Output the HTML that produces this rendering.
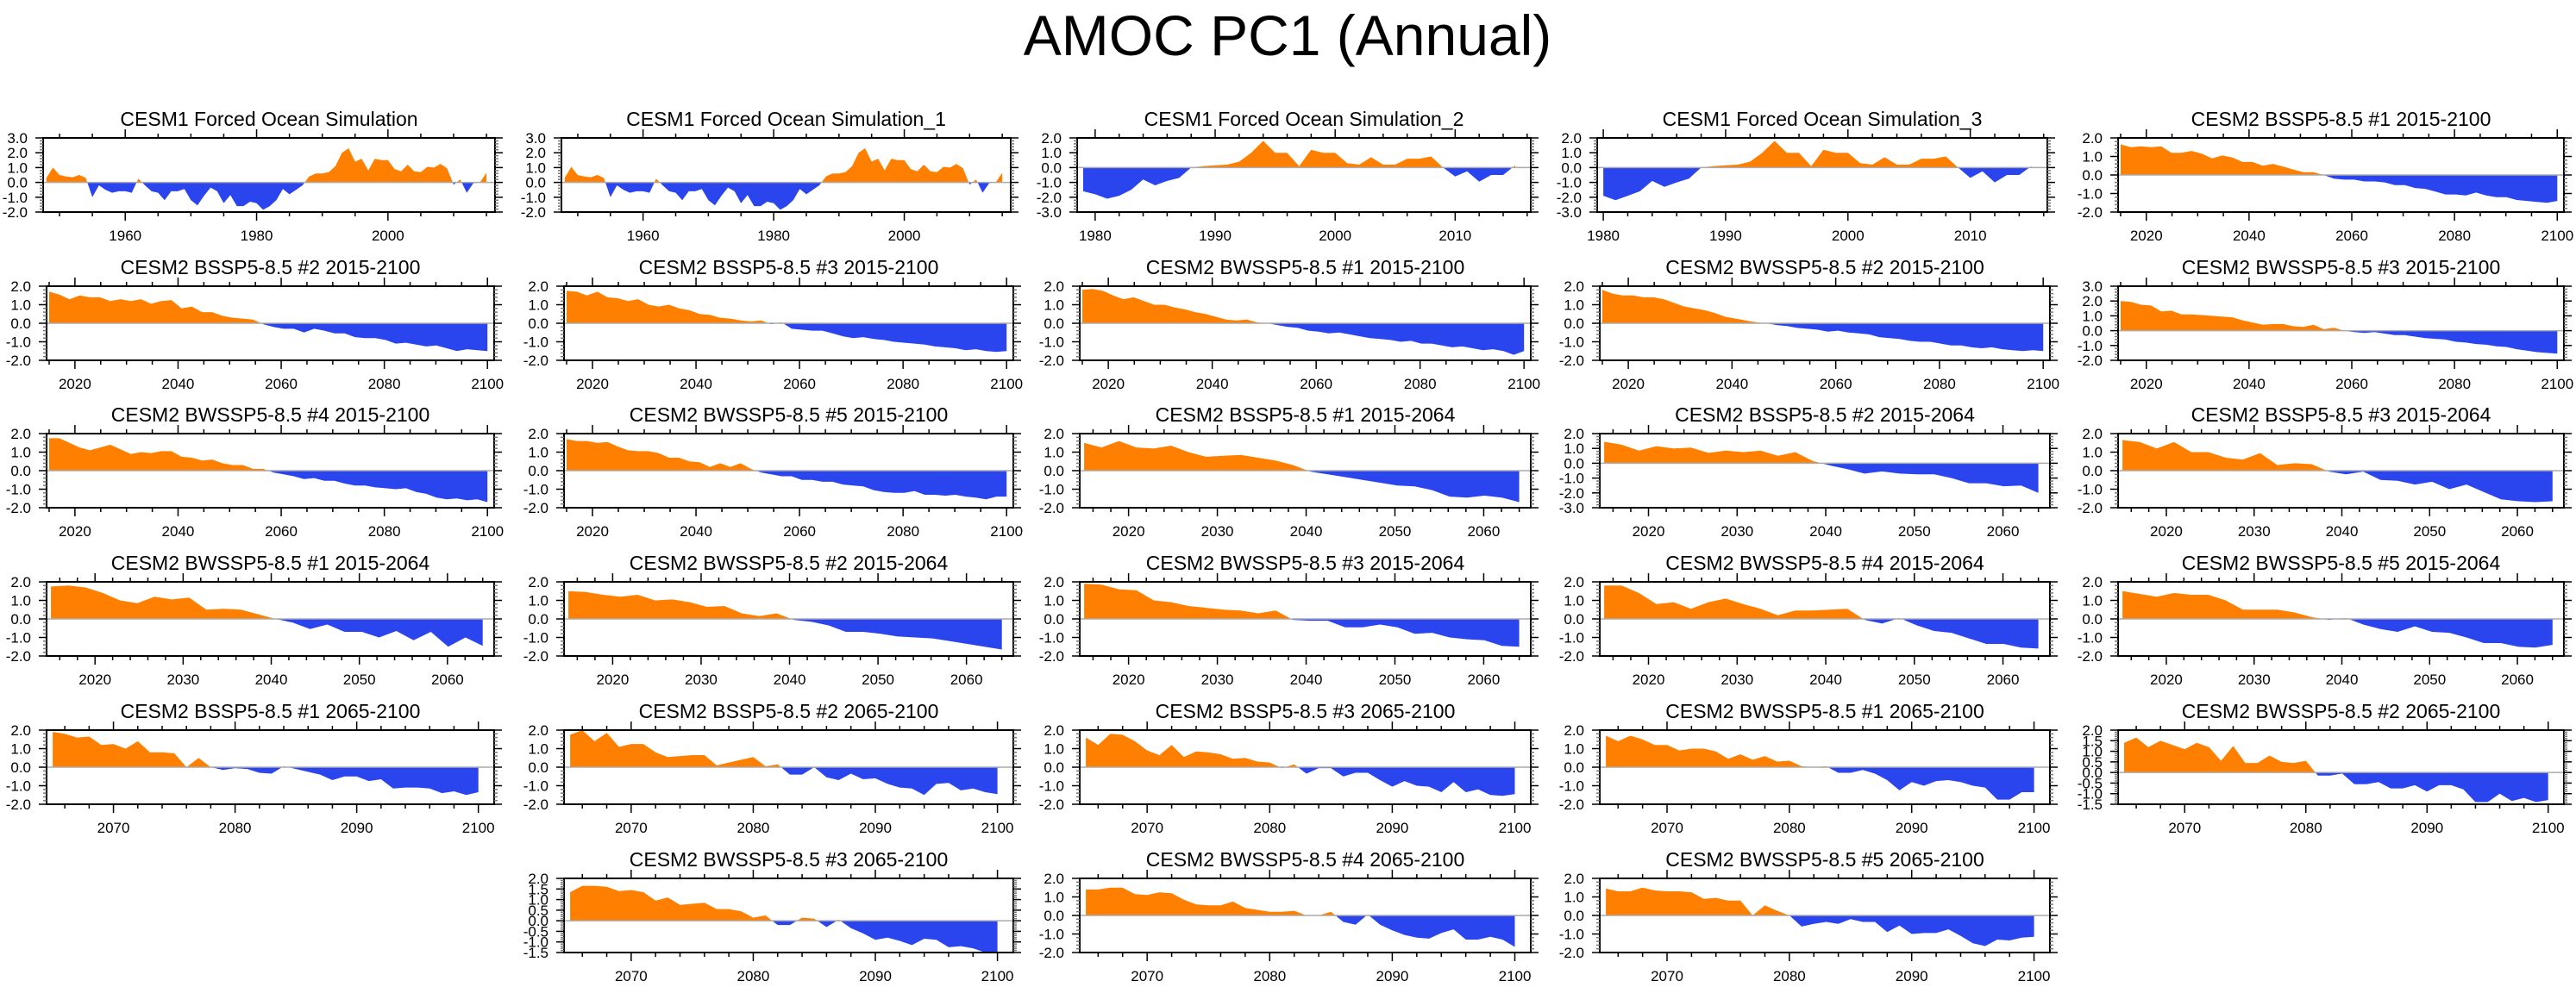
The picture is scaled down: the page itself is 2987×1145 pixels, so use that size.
<!DOCTYPE html>
<html><head><meta charset="utf-8"><title>AMOC PC1 (Annual)</title>
<style>
html,body{margin:0;padding:0;background:#fff;}
svg{display:block;font-family:"Liberation Sans",Arial,sans-serif;}
</style></head>
<body>
<svg id="fig" width="2987" height="1145" viewBox="0 0 2987 1145" xmlns="http://www.w3.org/2000/svg">
<text x="1493" y="64" text-anchor="middle" font-size="66" fill="#000">AMOC PC1 (Annual)</text>
</svg>
<script>
// ---- data: panel titles, year ranges, values ----
const panelTitles = [
 "CESM1 Forced Ocean Simulation","CESM1 Forced Ocean Simulation_1","CESM1 Forced Ocean Simulation_2","CESM1 Forced Ocean Simulation_3","CESM2 BSSP5-8.5 #1 2015-2100",
 "CESM2 BSSP5-8.5 #2 2015-2100","CESM2 BSSP5-8.5 #3 2015-2100","CESM2 BWSSP5-8.5 #1 2015-2100","CESM2 BWSSP5-8.5 #2 2015-2100","CESM2 BWSSP5-8.5 #3 2015-2100",
 "CESM2 BWSSP5-8.5 #4 2015-2100","CESM2 BWSSP5-8.5 #5 2015-2100","CESM2 BSSP5-8.5 #1 2015-2064","CESM2 BSSP5-8.5 #2 2015-2064","CESM2 BSSP5-8.5 #3 2015-2064",
 "CESM2 BWSSP5-8.5 #1 2015-2064","CESM2 BWSSP5-8.5 #2 2015-2064","CESM2 BWSSP5-8.5 #3 2015-2064","CESM2 BWSSP5-8.5 #4 2015-2064","CESM2 BWSSP5-8.5 #5 2015-2064",
 "CESM2 BSSP5-8.5 #1 2065-2100","CESM2 BSSP5-8.5 #2 2065-2100","CESM2 BSSP5-8.5 #3 2065-2100","CESM2 BWSSP5-8.5 #1 2065-2100","CESM2 BWSSP5-8.5 #2 2065-2100",
 "CESM2 BWSSP5-8.5 #3 2065-2100","CESM2 BWSSP5-8.5 #4 2065-2100","CESM2 BWSSP5-8.5 #5 2065-2100"];
const startYears = [1948,1948,1979,1980,2015, 2015,2015,2015,2015,2015, 2015,2015,2015,2015,2015, 2015,2015,2015,2015,2015, 2065,2065,2065,2065,2065, 2065,2065,2065];
const endYears   = [2015,2015,2015,2015,2100, 2100,2100,2100,2100,2100, 2100,2100,2064,2064,2064, 2064,2064,2064,2064,2064, 2100,2100,2100,2100,2100, 2100,2100,2100];
const yMins = [-2,-2,-3,-3,-2, -2,-2,-2,-2,-2, -2,-2,-2,-3,-2, -2,-2,-2,-2,-2, -2,-2,-2,-2,-1.5, -1.5,-2,-2];
const yMaxs = [3,3,2,2,2, 2,2,2,2,3, 2,2,2,2,2, 2,2,2,2,2, 2,2,2,2,2, 2,2,2];
const yTickSteps = [1,1,1,1,1, 1,1,1,1,1, 1,1,1,1,1, 1,1,1,1,1, 1,1,1,1,0.5, 0.5,1,1];

const v01 = [0.3,1.0,0.5,0.4,0.35,0.5,0.3,-1.0,-0.2,-0.5,-0.7,-0.6,-0.6,-0.7,0.25,-0.2,-0.6,-0.7,-1.2,-0.6,-0.6,-0.45,-1.2,-1.55,-0.9,-0.35,-0.6,-1.4,-0.85,-1.6,-1.6,-1.3,-1.4,-1.85,-1.6,-1.2,-0.45,-0.8,-0.5,-0.2,0.4,0.6,0.6,0.7,1.1,2.0,2.3,1.4,1.6,0.8,1.6,1.5,1.5,0.9,0.75,1.2,0.75,0.7,1.05,1.0,1.25,0.95,-0.15,0.2,-0.7,-0.05,0.0,0.65];
const v02 = [0.3,1.05,0.5,0.4,0.35,0.5,0.3,-1.0,-0.2,-0.5,-0.7,-0.6,-0.6,-0.7,0.25,-0.2,-0.6,-0.7,-1.2,-0.6,-0.6,-0.45,-1.2,-1.55,-0.9,-0.35,-0.6,-1.4,-0.85,-1.6,-1.6,-1.3,-1.4,-1.85,-1.6,-1.2,-0.45,-0.8,-0.5,-0.2,0.4,0.6,0.6,0.7,1.1,2.0,2.3,1.4,1.6,0.8,1.6,1.5,1.5,0.9,0.75,1.2,0.75,0.7,1.05,1.0,1.25,0.95,-0.15,0.2,-0.7,-0.05,0.0,0.65];
const v03 = [-1.6,-1.8,-2.1,-1.9,-1.5,-0.8,-1.2,-0.9,-0.7,0.0,0.1,0.15,0.2,0.4,1.0,1.8,1.0,1.0,0.1,1.2,1.0,1.0,0.3,0.2,0.7,0.2,0.2,0.6,0.6,0.75,0.0,-0.6,-0.25,-0.95,-0.5,-0.5,0.15];
const v04 = [-1.9,-2.2,-1.9,-1.6,-0.9,-1.3,-1.0,-0.75,0.0,0.1,0.15,0.2,0.4,1.0,1.8,1.0,1.0,0.1,1.2,1.0,1.0,0.3,0.2,0.7,0.2,0.2,0.6,0.6,0.75,0.0,-0.7,-0.25,-1.0,-0.5,-0.5,0.1];
const v05 = [1.65,1.5,1.55,1.5,1.55,1.2,1.2,1.3,1.15,0.9,1.05,0.95,0.7,0.7,0.5,0.6,0.45,0.3,0.15,0.15,0.0,-0.2,-0.25,-0.25,-0.35,-0.35,-0.4,-0.55,-0.55,-0.7,-0.75,-0.9,-1.05,-1.05,-1.1,-0.95,-1.1,-1.2,-1.2,-1.35,-1.4,-1.45,-1.5,-1.4];
const v06 = [1.7,1.55,1.3,1.5,1.4,1.4,1.2,1.3,1.2,1.3,1.05,1.2,1.25,0.8,0.9,0.6,0.6,0.4,0.3,0.25,0.2,-0.05,-0.2,-0.3,-0.3,-0.5,-0.3,-0.4,-0.55,-0.55,-0.75,-0.8,-0.8,-0.9,-1.1,-1.05,-1.15,-1.25,-1.2,-1.35,-1.5,-1.4,-1.45,-1.5];
const v07 = [1.75,1.7,1.5,1.7,1.4,1.35,1.2,1.3,1.0,0.9,1.0,0.8,0.7,0.5,0.45,0.3,0.25,0.15,0.1,0.15,-0.05,0.05,-0.3,-0.35,-0.4,-0.4,-0.55,-0.7,-0.8,-0.75,-0.85,-0.9,-1.0,-1.05,-1.1,-1.15,-1.25,-1.3,-1.35,-1.45,-1.4,-1.5,-1.55,-1.5];
const v08 = [1.8,1.85,1.75,1.5,1.3,1.4,1.2,1.0,1.0,0.85,0.75,0.6,0.5,0.35,0.2,0.15,0.2,0.05,0.0,-0.1,-0.2,-0.25,-0.4,-0.45,-0.55,-0.5,-0.6,-0.7,-0.8,-0.85,-0.9,-1.0,-0.95,-1.1,-1.1,-1.2,-1.3,-1.25,-1.35,-1.45,-1.4,-1.5,-1.7,-1.5];
const v09 = [1.8,1.6,1.5,1.5,1.4,1.4,1.3,1.1,0.9,0.8,0.7,0.55,0.35,0.25,0.15,0.05,0.0,-0.1,-0.15,-0.25,-0.3,-0.35,-0.45,-0.4,-0.5,-0.55,-0.6,-0.75,-0.8,-0.85,-0.95,-1.0,-1.0,-1.1,-1.2,-1.2,-1.3,-1.35,-1.3,-1.4,-1.45,-1.5,-1.45,-1.5];
const v10 = [2.0,1.95,1.75,1.7,1.3,1.35,1.1,1.1,1.05,1.0,0.95,0.9,0.7,0.55,0.4,0.45,0.45,0.3,0.25,0.4,0.1,0.2,0.0,-0.1,-0.15,-0.1,-0.2,-0.3,-0.3,-0.4,-0.5,-0.55,-0.6,-0.75,-0.8,-0.9,-0.95,-1.05,-1.1,-1.25,-1.35,-1.45,-1.5,-1.55];
const v11 = [1.75,1.75,1.5,1.25,1.1,1.25,1.4,1.15,0.9,1.0,0.95,1.05,1.05,0.75,0.7,0.55,0.6,0.4,0.3,0.3,0.1,0.1,-0.1,-0.2,-0.3,-0.45,-0.4,-0.55,-0.55,-0.7,-0.8,-0.8,-0.9,-0.95,-1.0,-0.95,-1.15,-1.25,-1.45,-1.55,-1.5,-1.6,-1.55,-1.7];
const v12 = [1.7,1.6,1.6,1.5,1.55,1.3,1.1,1.05,1.05,0.95,0.7,0.7,0.5,0.45,0.2,0.4,0.2,0.4,0.1,-0.1,-0.2,-0.3,-0.3,-0.5,-0.5,-0.6,-0.6,-0.75,-0.8,-0.85,-1.05,-1.15,-1.2,-1.2,-1.1,-1.3,-1.3,-1.35,-1.3,-1.4,-1.45,-1.55,-1.4,-1.4];
const v13 = [1.5,1.25,1.6,1.25,1.2,1.35,1.0,0.75,0.8,0.85,0.7,0.55,0.3,-0.05,-0.2,-0.35,-0.5,-0.65,-0.8,-0.85,-1.05,-1.4,-1.45,-1.35,-1.45,-1.7];
const v14 = [1.45,1.25,0.85,1.15,1.0,1.05,0.7,0.85,0.75,0.85,0.5,0.75,0.15,-0.15,-0.4,-0.7,-0.55,-0.7,-0.75,-0.75,-1.0,-1.35,-1.35,-1.55,-1.5,-2.0];
const v15 = [1.65,1.55,1.2,1.55,1.0,1.0,0.7,0.6,0.95,0.3,0.4,0.35,-0.05,-0.2,-0.05,-0.5,-0.55,-0.75,-0.6,-1.0,-0.75,-1.15,-1.55,-1.65,-1.7,-1.65];
const v16 = [1.75,1.8,1.7,1.4,1.0,0.85,1.2,1.05,1.15,0.5,0.55,0.5,0.25,0.0,-0.2,-0.55,-0.3,-0.7,-0.7,-1.0,-0.65,-1.15,-0.7,-1.5,-1.0,-1.45];
const v17 = [1.5,1.45,1.3,1.2,1.3,1.0,1.05,0.9,0.65,0.7,0.3,0.15,0.3,-0.05,-0.15,-0.35,-0.7,-0.7,-0.8,-0.95,-1.0,-1.05,-1.2,-1.35,-1.5,-1.65];
const v18 = [1.9,1.85,1.6,1.55,1.0,0.9,0.7,0.6,0.5,0.45,0.3,0.45,-0.05,-0.1,-0.1,-0.45,-0.45,-0.3,-0.45,-0.8,-0.75,-1.0,-1.1,-1.15,-1.45,-1.5];
const v19 = [1.8,1.8,1.4,0.8,0.9,0.55,0.9,1.1,0.8,0.55,0.2,0.45,0.45,0.5,0.55,-0.05,-0.25,0.05,-0.35,-0.65,-0.75,-1.05,-1.35,-1.35,-1.55,-1.6];
const v20 = [1.5,1.35,1.2,1.4,1.3,1.3,1.0,0.5,0.5,0.5,0.35,0.1,-0.05,0.05,-0.3,-0.55,-0.7,-0.4,-0.7,-0.75,-1.0,-1.3,-1.3,-1.5,-1.55,-1.4];
const v21 = [1.9,1.8,1.6,1.65,1.2,1.25,1.0,1.4,0.8,0.8,0.75,0.0,0.5,0.0,-0.15,-0.05,-0.1,-0.3,-0.35,0.05,-0.1,-0.25,-0.4,-0.7,-0.5,-0.5,-0.75,-0.65,-1.15,-1.1,-1.1,-1.15,-1.4,-1.3,-1.5,-1.35];
const v22 = [1.75,2.0,1.4,1.85,1.1,1.25,1.25,0.8,0.55,0.6,0.65,0.65,0.1,0.25,0.4,0.55,0.05,0.15,-0.4,-0.4,0.0,-0.55,-0.7,-0.35,-0.65,-0.6,-0.9,-1.1,-1.15,-1.5,-0.9,-0.85,-1.25,-1.15,-1.35,-1.45];
const v23 = [1.6,1.2,1.8,1.75,1.4,0.9,0.65,1.2,0.55,0.85,0.8,0.7,0.45,0.5,0.3,0.25,-0.05,0.15,-0.35,-0.05,-0.05,-0.5,-0.3,-0.3,-0.7,-1.05,-0.75,-1.0,-1.05,-1.35,-0.8,-1.35,-1.2,-1.5,-1.55,-1.45];
const v24 = [1.7,1.4,1.7,1.5,1.2,1.2,0.9,1.0,1.0,0.85,0.45,0.7,0.4,0.6,0.3,0.35,0.05,0.0,0.05,-0.3,-0.3,-0.15,-0.35,-0.7,-1.25,-0.8,-1.0,-0.75,-0.7,-0.8,-1.0,-1.1,-1.75,-1.75,-1.35,-1.35];
const v25 = [1.4,1.65,1.2,1.5,1.3,1.1,1.4,1.2,0.55,1.25,0.45,0.45,0.8,0.5,0.45,0.55,-0.15,-0.15,-0.05,-0.55,-0.55,-0.45,-0.75,-0.75,-0.6,-0.9,-0.6,-0.6,-0.8,-1.4,-1.4,-1.0,-1.35,-1.2,-1.4,-1.3];
const v26 = [1.35,1.65,1.65,1.6,1.4,1.45,1.35,0.95,1.1,0.75,0.8,0.85,0.55,0.55,0.45,0.15,0.25,-0.2,-0.2,0.15,0.1,-0.3,0.05,-0.35,-0.6,-0.9,-0.8,-0.95,-1.15,-0.85,-0.9,-1.25,-1.2,-1.3,-1.5,-1.5];
const v27 = [1.4,1.4,1.5,1.5,1.15,1.1,1.25,1.2,0.85,0.6,0.55,0.55,0.75,0.4,0.3,0.2,0.2,0.25,0.0,0.0,0.2,-0.35,-0.5,0.05,-0.5,-0.8,-1.05,-1.2,-1.25,-0.95,-0.75,-1.3,-1.3,-1.15,-1.3,-1.7];
const v28 = [1.45,1.3,1.3,1.5,1.35,1.3,1.3,1.25,0.9,0.95,0.8,0.8,0.0,0.55,0.25,0.0,-0.6,-0.45,-0.35,-0.45,-0.2,-0.35,-0.35,-0.9,-0.55,-1.0,-0.95,-0.95,-0.75,-1.1,-1.5,-1.65,-1.3,-1.35,-1.2,-1.15];
const seriesValues = [v01,v02,v03,v04,v05,v06,v07,v08,v09,v10,v11,v12,v13,v14,v15,v16,v17,v18,v19,v20,v21,v22,v23,v24,v25,v26,v27,v28];

// ---- layout ----
const rowTops = [160,332,503,675,847,1019];
const BOX_H = 86;
const colL = [54,654,1252,1855,2456], colR = [573,1175,1775,2377,2973];
const row1L = [50,651,1249,1852,2456], row1R = [574,1172,1775,2374,2973];
const slots = [];
for (let i=0;i<25;i++) slots.push([Math.floor(i/5), i%5]);
slots.push([5,1],[5,2],[5,3]);

const NS = "http://www.w3.org/2000/svg";
const svg = document.getElementById('fig');
function mk(tag, attrs, parent){ const e=document.createElementNS(NS,tag); for(const k in attrs) e.setAttribute(k,attrs[k]); (parent||svg).appendChild(e); return e; }
function fmt(v){ return v.toFixed(1); }

seriesValues.forEach((vals, p) => {
  const [row,col] = slots[p];
  const L = row===0 ? row1L[col] : colL[col];
  const R = row===0 ? row1R[col] : colR[col];
  const T = rowTops[row], B = T + BOX_H;
  const y0 = startYears[p], y1 = endYears[p];
  const xMin = y0 - 0.5, xMax = y1 + 1.3;
  const xs = yr => L + (yr - xMin) / (xMax - xMin) * (R - L);
  const ys = v => B - (v - yMins[p]) / (yMaxs[p] - yMins[p]) * (B - T);

  const g = mk('g', {});
  
  

  const title = mk('text', {x:(L+R)/2, y:T-14, 'text-anchor':'middle', 'font-size':23, fill:'#000'}, g);
  
  
  title.textContent = panelTitles[p];

  const cid = 'c' + p;
  const defs = mk('defs', {}, g);
  const cpA = mk('clipPath', {id: cid+'a'}, defs);
  mk('rect', {x:L, y:T, width:R-L, height:ys(0)-T}, cpA);
  const cpB = mk('clipPath', {id: cid+'b'}, defs);
  mk('rect', {x:L, y:ys(0), width:R-L, height:B-ys(0)}, cpB);

  const n = vals.length;
  const pts = vals.map((v,i) => [xs(y0 + (y1-y0)*i/(n-1)), ys(v)]);
  let d = 'M' + pts[0][0].toFixed(1) + ',' + ys(0).toFixed(1);
  pts.forEach(q => { d += ' L' + q[0].toFixed(1) + ',' + q[1].toFixed(1); });
  d += ' L' + pts[n-1][0].toFixed(1) + ',' + ys(0).toFixed(1) + ' Z';
  const pos = mk('path', {d:d, fill:'#ff8000', 'clip-path':'url(#'+cid+'a)'}, g);
  
  
  const neg = mk('path', {d:d, fill:'#2b45ee', 'clip-path':'url(#'+cid+'b)'}, g);
  
  

  const zl = mk('line', {x1:L, x2:R, y1:ys(0), y2:ys(0), stroke:'#aaaaaa', 'stroke-width':1.5}, g);
  
  

  const frame = mk('rect', {x:L, y:T, width:R-L, height:B-T, fill:'none', stroke:'#000', 'stroke-width':2}, g);
  
  

  const span = y1 - y0;
  let major, minor;
  if (span >= 60) { major = 20; minor = 5; }
  else { major = 10; minor = 2; }
  const tk = mk('g', {stroke:'#000', 'stroke-width':1.5}, g);
  
  
  for (let yr = Math.ceil(xMin/minor)*minor; yr <= xMax; yr += minor) {
    const isMaj = yr % major === 0;
    const len = isMaj ? 10 : 5;
    const x = xs(yr);
    mk('line', {x1:x, x2:x, y1:T, y2:T-len}, tk);
    mk('line', {x1:x, x2:x, y1:B, y2:B+len}, tk);
    if (isMaj) {
      const lab = mk('text', {x:x, y:B+33, 'text-anchor':'middle', 'font-size':17, fill:'#000', stroke:'none'}, g);
      
      
      lab.textContent = yr;
    }
  }
  const st = yTickSteps[p];
  const mst = st / 5;
  const ytk = mk('g', {stroke:'#000', 'stroke-width':1.5}, g);
  
  
  const nMin = Math.round((yMaxs[p]-yMins[p])/mst);
  for (let k=0;k<=nMin;k++) {
    const v = yMins[p] + k*mst;
    const y = ys(v);
    const isMaj = k % 5 === 0;
    const len = isMaj ? 9 : 4;
    mk('line', {x1:L, x2:L-len, y1:y, y2:y, stroke: isMaj?'#000':'#777'}, ytk);
    mk('line', {x1:R, x2:R+len, y1:y, y2:y, stroke: isMaj?'#000':'#777'}, ytk);
    if (isMaj) {
      const lab = mk('text', {x:L-18, y:y+6, 'text-anchor':'end', 'font-size':17, fill:'#000', stroke:'none'}, g);
      
      
      lab.textContent = fmt(v);
    }
  }
});
</script>
</body></html>
